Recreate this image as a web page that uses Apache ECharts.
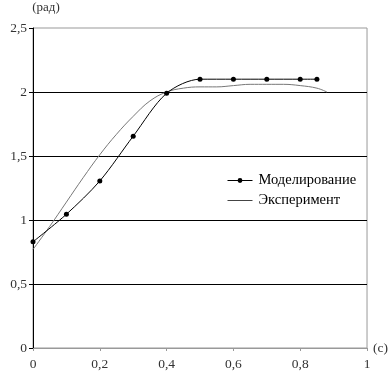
<!DOCTYPE html>
<html>
<head>
<meta charset="utf-8">
<script src="https://cdn.jsdelivr.net/npm/echarts@6/dist/echarts.min.js"></script>
<style>
  html, body { margin: 0; padding: 0; background: #fff; }
  #chart { width: 391px; height: 374px; }
</style>
</head>
<body>
<div id="chart"></div>
<script>
// modelled angle (points with markers)
const modelT = [0, 0.1, 0.2, 0.3, 0.4, 0.5, 0.6, 0.7, 0.8, 0.85]
const modelPhi = [0.83, 1.045, 1.305, 1.655, 1.99, 2.1, 2.1, 2.1, 2.1, 2.1]

// measured angle
const expT = [0, 0.05, 0.1, 0.15, 0.2, 0.25, 0.3, 0.35, 0.4, 0.45, 0.5, 0.55, 0.6, 0.65, 0.7, 0.75, 0.8, 0.85, 0.88]
const expPhi = [0.77, 0.95, 1.14, 1.33, 1.51, 1.67, 1.81, 1.93, 2.0, 2.03, 2.04, 2.04, 2.05, 2.06, 2.06, 2.06, 2.05, 2.03, 2.0]

const xTicks = [0, 0.2, 0.4, 0.6, 0.8, 1]
const yTicks = [0, 0.5, 1, 1.5, 2, 2.5]

const comma = v => String(v).replace('.', ',')
const font = '"Liberation Serif", "DejaVu Serif", serif'

const chart = echarts.init(document.getElementById('chart'))

chart.setOption({
  animation: false,
  textStyle: { fontFamily: font },
  grid: {
    left: 33, right: 23, top: 28, bottom: 26,
    show: true,
    borderColor: '#999',
    borderWidth: 1
  },
  legend: {
    left: 222, top: 168,
    orient: 'vertical',
    itemWidth: 25, itemHeight: 6, itemGap: 5,
    lineStyle: { width: 1 },
    textStyle: { fontFamily: font, fontSize: 14.5, color: '#000', padding: [0, 0, 0, 1] },
    data: [
      'Моделирование',
      { name: 'Эксперимент', itemStyle: { opacity: 0 }, lineStyle: { color: '#444', width: 1 } }
    ]
  },
  xAxis: {
    type: 'value',
    min: xTicks[0], max: xTicks[xTicks.length - 1], interval: 0.2,
    name: '(с)',
    nameLocation: 'end',
    nameGap: 6,
    nameTextStyle: { fontFamily: font, fontSize: 13.5, color: '#333', verticalAlign: 'middle' },
    axisLine: { lineStyle: { color: '#999', width: 1 } },
    axisTick: { show: true, length: 3, lineStyle: { color: '#999' } },
    axisLabel: { fontFamily: font, fontSize: 13.5, color: '#333', margin: 9, formatter: comma },
    splitLine: { show: false }
  },
  yAxis: {
    type: 'value',
    min: yTicks[0], max: yTicks[yTicks.length - 1], interval: 0.5,
    name: '(рад)',
    nameLocation: 'end',
    nameGap: 14,
    nameTextStyle: { fontFamily: font, fontSize: 13, color: '#333', align: 'center', padding: [0, 0, 0, 26] },
    axisLine: { show: true, onZero: false, lineStyle: { color: '#000', width: 1 } },
    axisTick: { show: true, length: 4, lineStyle: { color: '#000' } },
    axisLabel: { fontFamily: font, fontSize: 13.5, color: '#333', margin: 6, formatter: comma },
    splitLine: { show: true, showMaxLine: false, lineStyle: { color: '#000', width: 1 } }
  },
  series: [
    {
      name: 'Моделирование',
      type: 'line',
      smooth: 0.3,
      data: modelT.map((t, i) => [t, modelPhi[i]]),
      symbol: 'circle',
      symbolSize: 5,
      lineStyle: { color: '#000', width: 1 },
      itemStyle: { color: '#000' },
      z: 3
    },
    {
      name: 'Эксперимент',
      type: 'line',
      smooth: 0.4,
      data: expT.map((t, i) => [t, expPhi[i]]),
      symbol: 'none',
      lineStyle: { color: '#777', width: 1 },
      itemStyle: { color: '#555' },
      z: 2
    }
  ]
})
</script>
</body>
</html>
